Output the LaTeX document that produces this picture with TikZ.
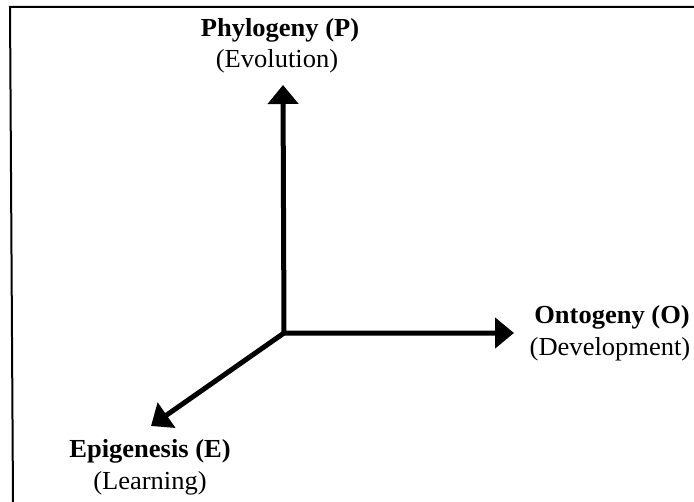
\documentclass[tikz,border=0pt]{standalone}
\usepackage{fontspec}
\setmainfont{Liberation Serif}
\usetikzlibrary{arrows.meta}
\newcommand{\wide}[1]{\scalebox{1.02}[1]{#1}}
\begin{document}
\begin{tikzpicture}[x=1bp,y=-1bp,
  labeltext/.style={anchor=base,inner sep=0pt,font=\fontsize{26bp}{32bp}\selectfont},
  tip/.style={Triangle[length=19bp,width=30bp]},
  axis/.style={line width=5bp,line join=miter,-{Triangle[length=19bp,width=30bp]}},
  frameline/.style={line width=2bp}]
  \useasboundingbox (0,0) rectangle (694,502);
  % frame edges
  \coordinate (fTL) at (10,7);
  \coordinate (fTR) at (694,7);
  \coordinate (fBL) at (13,502);
  \draw[frameline] (fBL) -- (fTL) -- (fTR);
  % axes
  \coordinate (O) at (284,333);
  \coordinate (P) at (283,85);
  \coordinate (Ot) at (514,333);
  \coordinate (E) at (151,426);
  \draw[line width=5bp,line join=miter,{Triangle[length=19bp,width=30bp]}-{Triangle[length=19bp,width=30bp]}] (P) -- (O) -- (Ot);
  \draw[axis] (O) -- (E);
  % labels
  \node[labeltext] (Pname) at (280,37) {\wide{\textbf{Phylogeny (P)}}};
  \node[labeltext] (Psub) at (277,68) {\wide{(Evolution)}};
  \node[labeltext] (Oname) at (612,323) {\wide{\textbf{Ontogeny (O)}}};
  \node[labeltext] (Osub) at (610,355) {\wide{(Development)}};
  \node[labeltext] (Ename) at (150,457) {\wide{\textbf{Epigenesis (E)}}};
  \node[labeltext] (Esub) at (150,489) {\wide{(Learning)}};
\end{tikzpicture}
\end{document}
